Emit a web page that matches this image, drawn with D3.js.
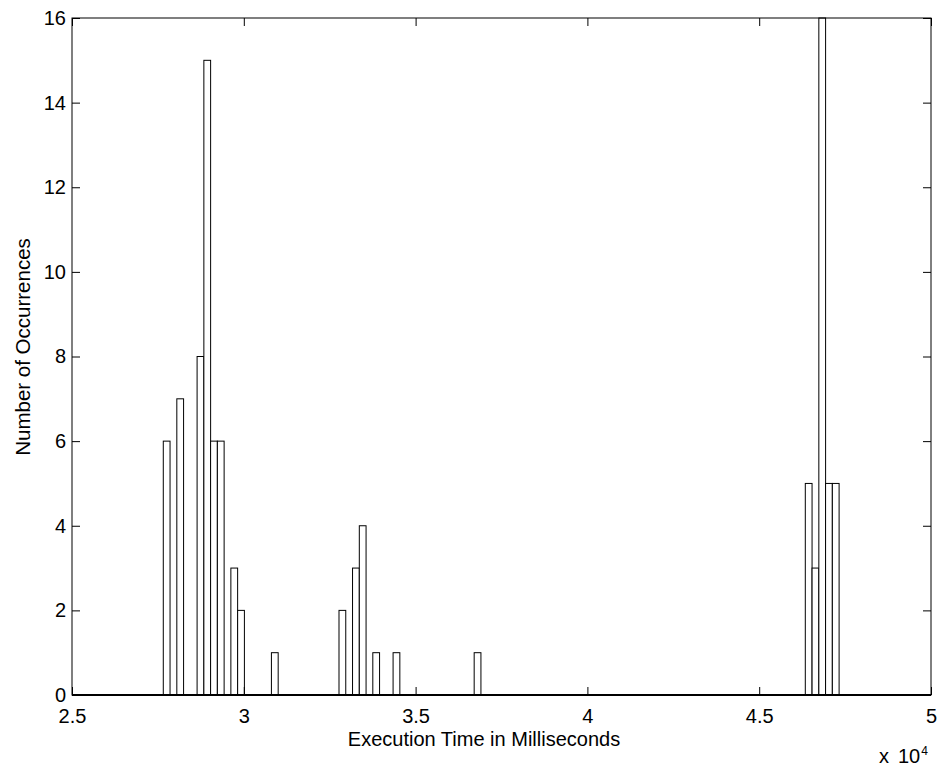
<!DOCTYPE html>
<meta charset="utf-8">
<title>Execution time histogram</title>
<style>
body {
  margin: 0;
  background: #fff;
}

svg text {
  font-family: "Liberation Sans", Arial, Helvetica, sans-serif;
  fill: #000;
}

.tick line {
  stroke: #000;
}

.bars rect {
  fill: #fff;
  stroke: #000;
  stroke-width: 1;
}
</style>
<body>
<svg width="941" height="768"></svg>

<script src="https://d3js.org/d3.v7.min.js"></script>
<script>
// bin centres (ms) of the non-empty histogram bins, and their counts
var binCenters = [27755, 28149, 28739, 28936, 29132, 29329, 29722, 29919,
                  30902, 32869, 33263, 33460, 33853, 34443, 36803,
                  46440, 46637, 46834, 47030, 47227];
var counts     = [6, 7, 8, 15, 6, 6, 3, 2,
                  1, 2, 3, 4, 1, 1, 1,
                  5, 3, 16, 5, 5];
var binWidth = 196.7;   // ms, 100 bins between min and max

var xTicks = [25000, 30000, 35000, 40000, 45000, 50000];
var yTicks = [0, 2, 4, 6, 8, 10, 12, 14, 16];

var svg = d3.select("svg"),
    margin = {top: 18, right: 10, bottom: 73, left: 72},
    width = +svg.attr("width") - margin.left - margin.right,
    height = +svg.attr("height") - margin.top - margin.bottom;

var x = d3.scaleLinear().domain([25000, 50000]).range([0, width]);
var y = d3.scaleLinear().domain([0, 16]).range([height, 0]);

var g = svg.append("g")
    .attr("transform", "translate(" + margin.left + "," + margin.top + ")");

//bars
g.append("g")
    .attr("class", "bars")
  .selectAll("rect")
  .data(binCenters)
  .enter().append("rect")
    .attr("x", function(d) { return x(d - binWidth / 2); })
    .attr("width", function(d) { return x(d + binWidth / 2) - x(d - binWidth / 2); })
    .attr("y", function(d, i) { return y(counts[i]); })
    .attr("height", function(d, i) { return y(0) - y(counts[i]); });

//axes, ticks pointing inward like matlab
var fmtX = function(d) { return String(d / 1e4); };

g.append("g")
    .attr("transform", "translate(0," + height + ")")
    .call(d3.axisBottom(x).tickValues(xTicks).tickFormat(fmtX)
      .tickSizeInner(-8).tickSizeOuter(0).tickPadding(14))
    .call(function(a) { a.select(".domain").remove(); });

g.append("g")
    .call(d3.axisTop(x).tickValues(xTicks).tickFormat("")
      .tickSizeInner(-8).tickSizeOuter(0))
    .call(function(a) { a.select(".domain").remove(); });

g.append("g")
    .call(d3.axisLeft(y).tickValues(yTicks)
      .tickSizeInner(-8).tickSizeOuter(0).tickPadding(6))
    .call(function(a) { a.select(".domain").remove(); });

g.append("g")
    .attr("transform", "translate(" + width + ",0)")
    .call(d3.axisRight(y).tickValues(yTicks).tickFormat("")
      .tickSizeInner(-8).tickSizeOuter(0))
    .call(function(a) { a.select(".domain").remove(); });

g.selectAll(".tick text").style("font-size", "20px");

//box
g.append("rect")
    .attr("width", width)
    .attr("height", height)
    .style("fill", "none")
    .style("stroke", "#000")
    .style("stroke-width", 1);

// baseline is drawn heavier because of the empty bins
g.append("line")
    .attr("x1", 0).attr("x2", width)
    .attr("y1", y(0)).attr("y2", y(0))
    .style("stroke", "#000")
    .style("stroke-width", 2);

//labels
svg.append("text")
    .attr("x", 484)
    .attr("y", height + margin.top + 51)
    .style("font-size", "20px")
    .style("text-anchor", "middle")
    .text("Execution Time in Milliseconds");

svg.append("text")
    .attr("transform", "translate(30," + 347 + ") rotate(-90)")
    .style("font-size", "20.5px")
    .style("text-anchor", "middle")
    .text("Number of Occurrences");

// exponent note under the right end of the x axis
var exp = svg.append("text")
    .attr("x", 879)
    .attr("y", 763)
    .style("font-size", "20px");
exp.append("tspan").text("x");
exp.append("tspan").attr("dx", 9).text("10");
exp.append("tspan")
    .attr("dy", -8)
    .attr("dx", 1)
    .style("font-size", "12px")
    .text("4");
</script>
</body>
